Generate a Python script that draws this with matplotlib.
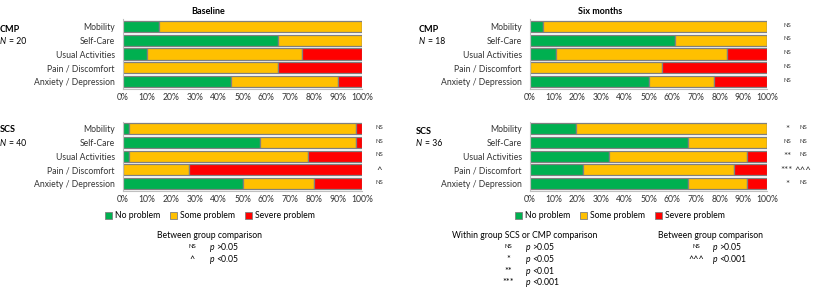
import matplotlib.pyplot as plt
from matplotlib.patches import Patch
from matplotlib.transforms import blended_transform_factory

plt.rcParams['font.family'] = ['Lato', 'DejaVu Sans']

categories = ['Mobility', 'Self-Care', 'Usual Activities', 'Pain / Discomfort', 'Anxiety / Depression']
levels = ['No problem', 'Some problem', 'Severe problem']
colors = ['#00B050', '#FFC000', '#FF0000']

# percentages per dimension: no problem, some problem, severe problem
base_cmp_none = [15, 65, 10, 0, 45]
base_cmp_some = [85, 35, 65, 65, 45]
base_cmp_severe = [0, 0, 25, 35, 10]

base_scs_none = [2.5, 57.5, 2.5, 0, 50]
base_scs_some = [95, 40, 75, 27.5, 30]
base_scs_severe = [2.5, 2.5, 22.5, 72.5, 20]

six_cmp_none = [5.6, 61.1, 11.1, 0, 50]
six_cmp_some = [94.4, 38.9, 72.2, 55.6, 27.8]
six_cmp_severe = [0, 0, 16.7, 44.4, 22.2]

six_scs_none = [19.4, 66.7, 33.3, 22.2, 66.7]
six_scs_some = [80.6, 33.3, 58.3, 63.9, 25.0]
six_scs_severe = [0, 0, 8.3, 13.9, 8.3]

# significance marks
base_scs_between = ['NS', 'NS', 'NS', '^', 'NS']
six_cmp_within = ['NS', 'NS', 'NS', 'NS', 'NS']
six_scs_within = ['*', 'NS', '**', '***', '*']
six_scs_between = ['NS', 'NS', 'NS', '^^^', 'NS']

W, H = 813, 288
fig = plt.figure(figsize=(W / 100, H / 100), dpi=100)


def px_axes(x0, y0, x1, y1):
    return fig.add_axes([x0 / W, 1 - y1 / H, (x1 - x0) / W, (y1 - y0) / H])


def draw_panel(ax, none, some, severe):
    left = [0] * len(categories)
    for vals, c in zip([none, some, severe], colors):
        ax.barh(range(len(categories)), vals, left=left, height=0.8,
                color=c, edgecolor='#808080', linewidth=0.9)
        left = [a + b for a, b in zip(left, vals)]
    ax.set_xlim(0, 100)
    ax.set_ylim(4.5, -0.5)
    ax.set_yticks(range(len(categories)))
    ax.set_yticklabels(categories, fontsize=6.2, color='#333333')
    ax.set_xticks(range(0, 101, 10))
    ax.set_xticklabels(['%d%%' % v for v in range(0, 101, 10)], fontsize=6.2, color='#333333')
    ax.tick_params(length=0, pad=3)
    ax.tick_params(axis='y', pad=6)
    for s in ['top', 'right']:
        ax.spines[s].set_visible(False)
    for s in ['bottom', 'left']:
        ax.spines[s].set_color('#bfbfbf')
        ax.spines[s].set_linewidth(0.8)


def marks(ax, xfrac, labels):
    tr = blended_transform_factory(ax.transAxes, ax.transData)
    for i, m in enumerate(labels):
        if m == 'NS':
            ax.text(xfrac, i - 0.1, m, transform=tr, fontsize=4.3, ha='center', va='center', color='#333333')
        else:
            ax.text(xfrac, i + 0.05, m, transform=tr, fontsize=7, ha='center', va='center', color='#333333')


ax1 = px_axes(123, 19.5, 362, 88.5)
draw_panel(ax1, base_cmp_none, base_cmp_some, base_cmp_severe)
ax2 = px_axes(123, 122, 362, 190.5)
draw_panel(ax2, base_scs_none, base_scs_some, base_scs_severe)
ax3 = px_axes(530, 19.5, 767, 88.5)
draw_panel(ax3, six_cmp_none, six_cmp_some, six_cmp_severe)
ax4 = px_axes(530, 122, 767, 190.5)
draw_panel(ax4, six_scs_none, six_scs_some, six_scs_severe)

marks(ax2, (379 - 123) / 239, base_scs_between)
marks(ax3, (787 - 530) / 237, six_cmp_within)
marks(ax4, (787 - 530) / 237, six_scs_within)
marks(ax4, (803 - 530) / 237, six_scs_between)


def ftext(x, y, s, **kw):
    fig.text(x / W, 1 - y / H, s, **kw)


def pval(x, y, s):
    # italic p, then the threshold in upright text
    ftext(x, y, 'p', fontsize=6.2, style='italic', ha='left', va='center')
    ftext(x + 6, y, s, fontsize=6.2, ha='left', va='center')


def sym(x, y, s):
    if s == 'NS':
        ftext(x, y - 1.5, s, fontsize=4.3, ha='center', va='center')
    else:
        ftext(x, y, s, fontsize=6.5, ha='center', va='center')


ftext(208, 12, 'Baseline', fontsize=6.5, fontweight='bold', ha='center', va='center')
ftext(600, 12, 'Six months', fontsize=6.5, fontweight='bold', ha='center', va='center')

for x, y, grp, n in [(0, 29, 'CMP', 20), (0, 130, 'SCS', 40), (419, 29, 'CMP', 18), (416, 131, 'SCS', 36)]:
    ftext(x, y, grp, fontsize=6.5, fontweight='bold', ha='left', va='center')
    ftext(x, y + 13, 'N', fontsize=6.2, style='italic', ha='left', va='center')
    ftext(x + 9, y + 13, '= %d' % n, fontsize=6.2, ha='left', va='center')

handles = [Patch(facecolor=c, edgecolor='#808080', linewidth=0.6) for c in colors]
for cx in [210, 620]:
    fig.legend(handles, levels, loc='center', bbox_to_anchor=(cx / W, 1 - 216 / H), ncol=3,
               frameon=False, fontsize=6.2, handlelength=0.8, handleheight=0.8,
               handletextpad=0.3, columnspacing=1.2)

# key for the significance marks
ftext(209, 235, 'Between group comparison', fontsize=6.2, ha='center', va='center')
for y, s, p in [(247.5, 'NS', '>0.05'), (259.5, '^', '<0.05')]:
    sym(192, y, s)
    pval(210, y, p)

ftext(525, 235, 'Within group SCS or CMP comparison', fontsize=6.2, ha='center', va='center')
for y, s, p in [(247.5, 'NS', '>0.05'), (259.5, '*', '<0.05'), (271, '**', '<0.01'), (282.5, '***', '<0.001')]:
    sym(508, y, s)
    pval(526, y, p)

ftext(710, 235, 'Between group comparison', fontsize=6.2, ha='center', va='center')
for y, s, p in [(247.5, 'NS', '>0.05'), (259.5, '^^^', '<0.001')]:
    sym(696, y, s)
    pval(713, y, p)

fig.savefig('out.png', dpi=100)
